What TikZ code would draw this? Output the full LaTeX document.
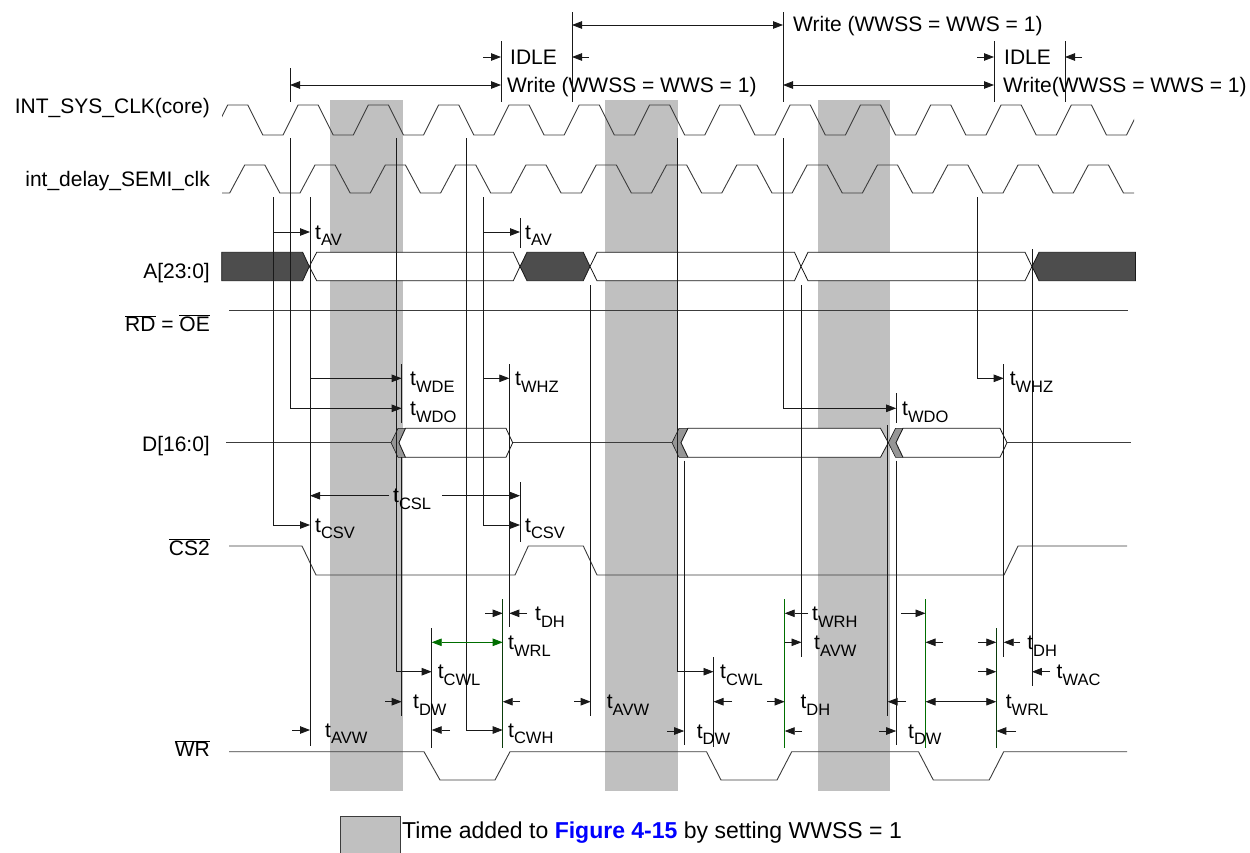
\documentclass[tikz,border=0pt]{standalone}
\usepackage{fontspec}
\setmainfont{Liberation Sans}
\usepackage{tikz}
\usetikzlibrary{arrows.meta}
\definecolor{figline}{RGB}{25,25,25}
\definecolor{figwave}{RGB}{60,60,60}
\definecolor{figshade}{RGB}{192,192,192}
\definecolor{figdark}{RGB}{77,77,77}
\definecolor{figchev}{RGB}{150,150,150}
\definecolor{figgreen}{RGB}{0,110,0}
\definecolor{figdkgreen}{RGB}{10,60,10}
\definecolor{figblue}{RGB}{0,0,255}
\newcommand{\labfont}{\fontsize{21}{25}\selectfont}
\newcommand{\tsub}[1]{t\raisebox{-0.32em}{\fontsize{16.5}{16.5}\selectfont #1}}
\newcommand{\ovl}[1]{$\overline{\mbox{#1}}$}
\tikzset{
  sig/.style  ={draw=figwave, line width=0.9pt},
  mk/.style   ={draw=figline, line width=0.8pt},
  mkg/.style  ={draw=figgreen, line width=1pt},
  mkd/.style  ={draw=figdkgreen, line width=1pt},
  tip/.style  ={draw=figline, line width=0.8pt, -{Triangle[length=10pt,width=7.5pt]}},
  tips/.style ={draw=figline, line width=0.8pt, {Triangle[length=10pt,width=7.5pt]}-{Triangle[length=10pt,width=7.5pt]}},
  busd/.style ={draw=figline, fill=figdark, line width=0.8pt},
  busw/.style ={draw=figline, fill=white, line width=0.8pt},
  chev/.style ={draw=figline, fill=figchev, line width=0.6pt},
  lab/.style  ={font=\labfont, inner sep=0pt, anchor=base west},
  sname/.style={font=\labfont, inner sep=0pt, anchor=base east},
}
\begin{document}
\begin{tikzpicture}[x=1pt,y=-1pt]
  \useasboundingbox (0,0) rectangle (1250,852);
  % added wait-state time
  \fill[figshade] (330,100) rectangle (403,791);
  \fill[figshade] (605,100) rectangle (678,791);
  \fill[figshade] (818,100) rectangle (890,791);
  % signal names
  \node[sname] (nclk) at (210,113.3) {INT\_SYS\_CLK(core)};
  \node[sname] (ndly) at (210,186.7) {int\_delay\_SEMI\_clk};
  \node[sname] (naddr) at (210,278) {A[23:0]};
  \node[sname] (nrd) at (210,331.7) {\ovl{RD} =\ \ovl{OE}};
  \node[sname] (ndata) at (210,451.7) {D[16:0]};
  \node[sname] (ncs) at (210,555) {\ovl{CS2}};
  \node[sname] (nwr) at (210,756.7) {\ovl{WR}};
  % clocks
  \begin{scope}
  \clip (222,90) rectangle (1134,200);
  \draw[sig] (142.4,135) \foreach \k in {1,...,16}{ -- ++(15,-30) -- ++(20.15,0) -- ++(15,30) -- ++(20.15,0)};
  \draw[sig] (159.4,193) \foreach \k in {1,...,16}{ -- ++(15,-28) -- ++(20.15,0) -- ++(15,28) -- ++(20.15,0)};
  \end{scope}
  % address bus
  \draw[busd] (221.7,252.3) -- (302.7,252.3) -- (309.3,266.5) -- (302.7,280.7) -- (221.7,280.7) -- cycle;
  \draw[busw] (309.3,266.5) -- (316.7,252.3) -- (513.3,252.3) -- (520,266.5) -- (513.3,280.7) -- (316.7,280.7) -- cycle;
  \draw[busd] (520,266.5) -- (527,252.3) -- (583.3,252.3) -- (590,266.5) -- (583.3,280.7) -- (527,280.7) -- cycle;
  \draw[busw] (590,266.5) -- (597,252.3) -- (794.5,252.3) -- (801,266.5) -- (794.5,280.7) -- (597,280.7) -- cycle;
  \draw[busw] (801,266.5) -- (808,252.3) -- (1025,252.3) -- (1032,266.5) -- (1025,280.7) -- (808,280.7) -- cycle;
  \draw[busd] (1032,266.5) -- (1039,252.3) -- (1135.5,252.3) -- (1135.5,280.7) -- (1039,280.7) -- cycle;
  % read strobe
  \draw[sig] (229,310.7) -- (1127.7,310.7);
  % data bus
  \draw[sig] (226,442.7) -- (391,442.7);
  \draw[sig] (512.7,442.7) -- (672,442.7);
  \draw[sig] (1007,442.7) -- (1131,442.7);
  \draw[chev] (398,428.3) -- (391,442.7) -- (398,457.3) -- (405.5,457.3) -- (399,442.7) -- (405.5,428.3) -- cycle;
  \draw[busw] (399,442.7) -- (405.5,428.3) -- (506,428.3) -- (512.7,442.7) -- (506,457.3) -- (405.5,457.3) -- cycle;
  \draw[chev] (679,428.3) -- (672,442.7) -- (679,457.3) -- (688,457.3) -- (681,442.7) -- (688,428.3) -- cycle;
  \draw[busw] (681,442.7) -- (688,428.3) -- (880.5,428.3) -- (888.3,442.7) -- (880.5,457.3) -- (688,457.3) -- cycle;
  \draw[chev] (895.5,428.3) -- (888.3,442.7) -- (895.5,457.3) -- (903,457.3) -- (896,442.7) -- (903,428.3) -- cycle;
  \draw[busw] (896,442.7) -- (903,428.3) -- (1000,428.3) -- (1007,442.7) -- (1000,457.3) -- (903,457.3) -- cycle;
  % chip select and write strobe
  \draw[sig] (229,546) -- (302,546) -- (316,575) -- (515,575) -- (528.3,546) -- (583.3,546) -- (597,575) -- (1004,575) -- (1018,546) -- (1127,546);
  \draw[sig] (229,751.7) -- (424,751.7) -- (440,780) -- (495,780) -- (510,751.7) -- (706.5,751.7) -- (721,780) -- (777,780) -- (791.7,751.7) -- (918.5,751.7) -- (933.3,780) -- (989.2,780) -- (1003.7,751.7) -- (1127,751.7);
  % cycle brackets on top
  \node[lab] (idlea) at (510,64) {IDLE};
  \node[lab] (wcya) at (507,92) {Write (WWSS = WWS = 1)};
  \node[lab] (wcyb) at (793,31) {Write (WWSS = WWS = 1)};
  \node[lab] (idleb) at (1004,64) {IDLE};
  \node[lab] (wcyc) at (1003,92) {Write(WWSS = WWS = 1)};
  \draw[mk] (290,68) -- (290,102);
  \draw[mk] (501,41) -- (501,102);
  \draw[mk] (572,12) -- (572,102);
  \draw[mk] (783,12) -- (783,102);
  \draw[mk] (994,41) -- (994,102);
  \draw[mk] (1065,41) -- (1065,102);
  \draw[tips] (290,85) -- (501,85);
  \draw[tip] (483,57) -- (501,57);
  \draw[tip] (589,57) -- (572,57);
  \draw[tips] (572,25) -- (783,25);
  \draw[tips] (783,85) -- (994,85);
  \draw[tip] (977,57) -- (994,57);
  \draw[tip] (1082,57) -- (1065,57);
  % reference edges
  \draw[tip] (290,138) |- (401.7,408.3);
  \draw[tip] (273,197) |- (310,525);
  \draw[tip] (273,232) -- (310,232);
  \draw[mk] (310,197) -- (310,745.7);
  \draw[tip] (310,378.3) -- (401.7,378.3);
  \draw[tip] (396.7,138) |- (431.7,671.7);
  \draw[mk] (401.7,364) -- (401.7,423);
  \draw[mk] (401.7,457) -- (401.7,716);
  \draw[tip] (466,138) |- (502.7,730);
  \draw[tip] (483.3,197) |- (520,525);
  \draw[tip] (483.3,232) -- (520,232);
  \draw[tip] (483.3,378.3) -- (509.3,378.3);
  \draw[mk] (509.3,364) -- (509.3,626.7);
  \draw[mk] (520,218) -- (520,248);
  \draw[mk] (520,482) -- (520,542);
  \draw[mk] (590.7,285) -- (590.7,716);
  \draw[mk] (431.7,628.3) -- (431.7,748.3);
  \draw[mkd] (502.7,599.3) -- (502.7,748.3);
  \draw[tip] (677.2,138) |- (713.5,671.7);
  \draw[mk] (684.2,460.7) -- (684.2,745);
  \draw[mk] (713.5,657.3) -- (713.5,746.7);
  \draw[tip] (783.5,138) |- (896.2,408.3);
  \draw[mkg] (784.7,599.3) -- (784.7,748.3);
  \draw[mk] (801.5,285) -- (801.5,657.3);
  \draw[mk] (887.6,425) -- (887.6,716);
  \draw[mk] (896.2,393) -- (896.2,423);
  \draw[mk] (896.2,460.7) -- (896.2,745);
  \draw[mkg] (925.5,599.3) -- (925.5,748.3);
  \draw[tip] (977,197) |- (1003.7,378.3);
  \draw[mkd] (996.3,628.3) -- (996.3,748.3);
  \draw[mk] (1003.7,364) -- (1003.7,656.7);
  \draw[mk] (1031.9,249) -- (1031.9,686);
  % timing parameters
  \node[lab] (tava) at (315,239) {\tsub{AV}};
  \node[lab] (tavb) at (525,239) {\tsub{AV}};
  \node[lab] (twde) at (410,385.3) {\tsub{WDE}};
  \node[lab] (twhza) at (515,385.3) {\tsub{WHZ}};
  \node[lab] (twdoa) at (410,415.3) {\tsub{WDO}};
  \node[lab] (twdob) at (902,415.3) {\tsub{WDO}};
  \node[lab] (twhzb) at (1009.6,385.3) {\tsub{WHZ}};
  \node[lab] (tcsl) at (393,502.7) {\tsub{CSL}};
  \draw[tip] (389,495.7) -- (310,495.7);
  \draw[tip] (442,495.7) -- (520,495.7);
  \node[lab] (tcsva) at (315,532) {\tsub{CSV}};
  \node[lab] (tcsvb) at (525,532) {\tsub{CSV}};
  \draw[tip] (485,613.3) -- (502.7,613.3);
  \draw[tip] (527,613.3) -- (509.3,613.3);
  \node[lab] (tdha) at (535,620.3) {\tsub{DH}};
  \draw[tips, draw=figgreen] (431.7,642.3) -- (502.7,642.3);
  \node[lab] (twrla) at (508,649.3) {\tsub{WRL}};
  \node[lab] (tcwla) at (437.7,678.7) {\tsub{CWL}};
  \draw[tip] (385,701.7) -- (401.7,701.7);
  \draw[tip] (520,701.7) -- (502.7,701.7);
  \node[lab] (tdwa) at (413,708.7) {\tsub{DW}};
  \draw[tip] (574,701.7) -- (590.7,701.7);
  \node[lab] (tavwb) at (606.7,708.7) {\tsub{AVW}};
  \draw[tip] (292,730) -- (310,730);
  \node[lab] (tavwa) at (325,737) {\tsub{AVW}};
  \draw[tip] (450,730) -- (431.7,730);
  \node[lab] (tcwh) at (508,737) {\tsub{CWH}};
  \node[lab] (tcwlb) at (720,678.7) {\tsub{CWL}};
  \draw[tip] (732,701.7) -- (713.5,701.7);
  \draw[tip] (767,701.7) -- (784.7,701.7);
  \node[lab] (tdhb) at (800.3,708.7) {\tsub{DH}};
  \draw[tip] (667,731) -- (684.2,731);
  \draw[tip] (802,731) -- (784.7,731);
  \node[lab] (tdwb) at (696.7,738) {\tsub{DW}};
  \draw[tip] (808,613.3) -- (784.7,613.3);
  \node[lab] (twrh) at (812,620.3) {\tsub{WRH}};
  \draw[tip] (784.7,642.3) -- (801.5,642.3);
  \node[lab] (tavwc) at (814,649.3) {\tsub{AVW}};
  \draw[tip] (906,701.7) -- (887.6,701.7);
  \draw[tips] (925.5,701.7) -- (996.3,701.7);
  \node[lab] (twrlb) at (1005.7,708.7) {\tsub{WRL}};
  \draw[tip] (901,613.3) -- (925.5,613.3);
  \draw[tip] (943,642.3) -- (925.5,642.3);
  \draw[tip] (978,642.3) -- (996.3,642.3);
  \draw[tip] (1020,642.3) -- (1003.7,642.3);
  \node[lab] (tdhc) at (1027.2,649.3) {\tsub{DH}};
  \draw[tip] (978,671.7) -- (996.3,671.7);
  \draw[tip] (1050,671.7) -- (1031.9,671.7);
  \node[lab] (twac) at (1056.5,678.7) {\tsub{WAC}};
  \draw[tip] (1016,731) -- (996.3,731);
  \draw[tip] (879,731) -- (896.2,731);
  \node[lab] (tdwc) at (908,738) {\tsub{DW}};
  % legend
  \draw[fill=figshade, draw=figwave, line width=0.8pt] (340,816) rectangle (400,853);
  \node[lab, font=\fontsize{23}{27}\selectfont] (legtxt) at (402,838) {Time added to \textcolor{figblue}{\textbf{Figure 4-15}} by setting WWSS = 1};
\end{tikzpicture}
\end{document}
